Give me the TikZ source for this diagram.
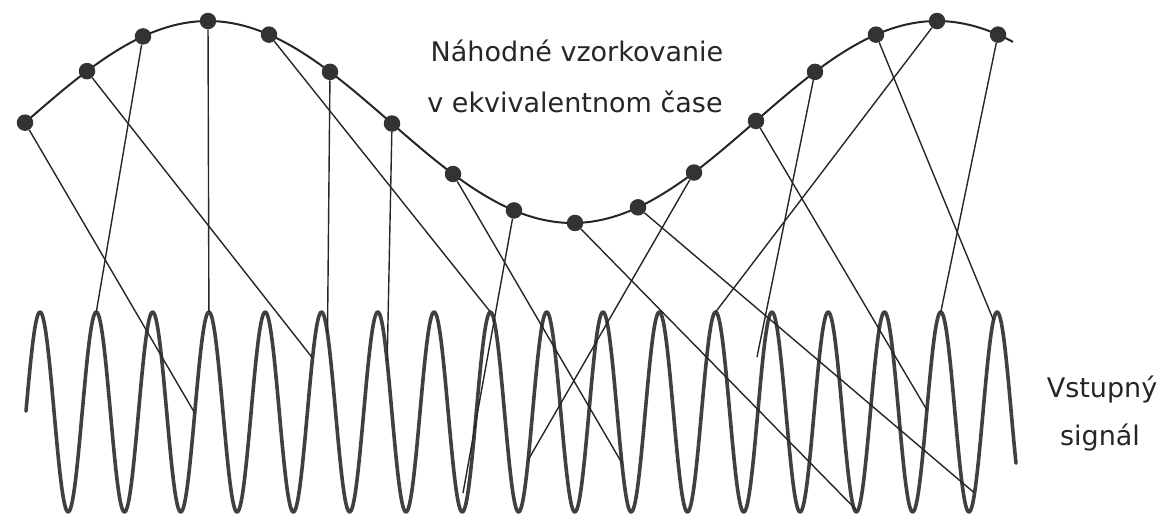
\documentclass[tikz,border=0pt]{standalone}
\usepackage{fontspec}
\setmainfont{DejaVu Sans}
\begin{document}
\begin{tikzpicture}[x=1pt,y=-1pt,
  dot/.style={circle,fill=black!80,inner sep=0pt,minimum size=16.5pt},
  sig/.style={line width=3.6pt,draw=black!75,line join=round,line cap=round},
  slow/.style={line width=2pt,draw=black!85},
  ray/.style={line width=1.4pt,draw=black!85},
  lbl/.style={font=\fontsize{27}{31}\selectfont,text=black!85,inner sep=0pt}]
\useasboundingbox (0,0) rectangle (1169,525);
% input signal
\draw[sig] plot[domain=26:1016,samples=1000] (\x,{412-100*cos(6.39432*(\x-40))});
% reconstructed slow signal
\draw[slow] plot[domain=25:1013,samples=250] (\x,{122-101*cos(0.493827*(\x-208))});
% sample dots
\foreach \i/\xx in {1/25,2/87,3/143,4/208,5/269,6/330,7/392,8/453,9/514,10/575,11/638,12/694,13/756,14/815,15/876,16/937,17/998}
  \node[dot] (d\i) at (\xx,{122-101*cos(0.493827*(\xx-208))}) {};
% sampling instants on the input signal
\coordinate (e1) at (194.7,413);
\coordinate (e2) at (312.5,358);
\coordinate (e3) at (96.3,312);
\coordinate (e4) at (208.9,312);
\coordinate (e5) at (490.4,312);
\coordinate (e6) at (327.5,333);
\coordinate (e7) at (387.2,361);
\coordinate (e8) at (621.9,463);
\coordinate (e9) at (463,493);
\coordinate (e10) at (856.4,510);
\coordinate (e11) at (974.5,493);
\coordinate (e12) at (528.1,460);
\coordinate (e13) at (926.9,410);
\coordinate (e14) at (757,357);
\coordinate (e15) at (993.4,320);
\coordinate (e16) at (715.6,312);
\coordinate (e17) at (940.8,312);
\foreach \i in {1,...,17}
  \draw[ray] (d\i) -- (e\i);
% labels
\node[lbl,anchor=base] (t1) at (577,61) {Náhodné vzorkovanie};
\node[lbl,anchor=base] (t2) at (575,112) {v ekvivalentnom čase};
\node[lbl,anchor=base] (t3) at (1102,397) {Vstupný};
\node[lbl,anchor=base] (t4) at (1100,445) {signál};
\end{tikzpicture}
\end{document}
